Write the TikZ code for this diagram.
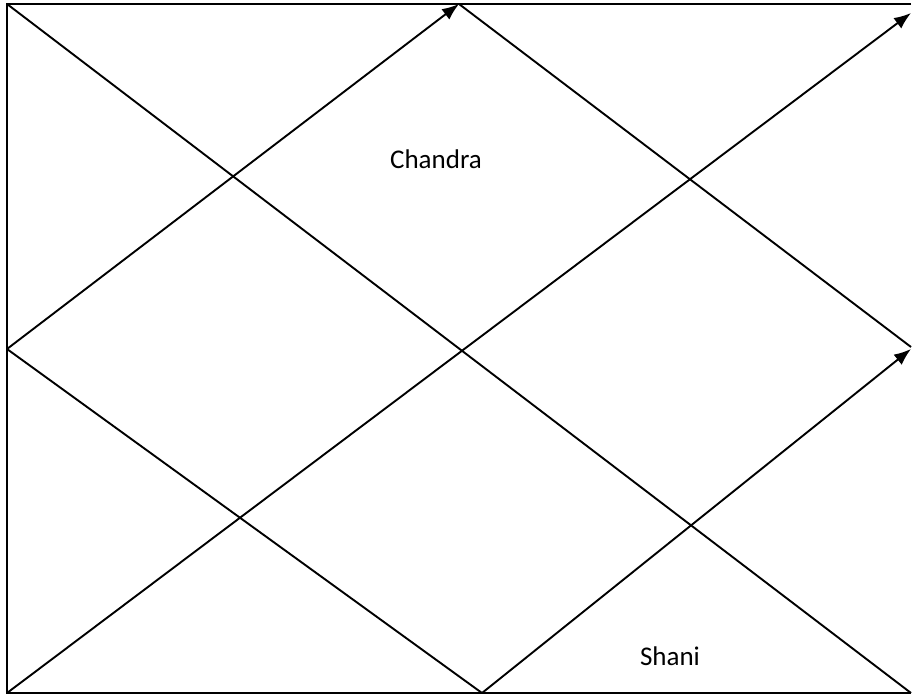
\documentclass[tikz,border=0pt]{standalone}
\usepackage{fontspec}
\setmainfont{Carlito}
\usetikzlibrary{arrows.meta}
\tikzset{
  chartline/.style={line width=1.9pt},
  chartarrow/.style={chartline, -{Latex[length=17pt,width=13pt]}},
  graha/.style={font=\fontsize{27}{31}\selectfont}
}
\begin{document}
\begin{tikzpicture}[x=1pt,y=-1pt]
        \useasboundingbox (0,0) rectangle (912,698);

        % Rohy a středy okrajů
        \coordinate (tl) at (7,4);
        \coordinate (tm) at (459,4);
        \coordinate (tr) at (911,4);
        \coordinate (lm) at (7,349);
        \coordinate (rm) at (911,347);
        \coordinate (bl) at (7,693);
        \coordinate (bm) at (482,693);
        \coordinate (br) at (911,693);
        \coordinate (trtip) at (911,13);
        \coordinate (rmtip) at (911,349);

        % Rámeček (pravý okraj není vidět)
        \draw[chartline] (tr) -- (tl) -- (bl) -- (br);

        % Úhlopříčky
        \draw[chartline] (tl) -- (br);
        \draw[chartarrow] (bl) -- (trtip);

        % Kosočtverec
        \draw[chartarrow] (lm) -- (tm);
        \draw[chartline] (tm) -- (rm);
        \draw[chartarrow] (bm) -- (rmtip);
        \draw[chartline] (lm) -- (bm);

        % Planety
        \node[graha] (chandra) at (436,159) {Chandra};
        \node[graha] (shani) at (670,656) {Shani};
    \end{tikzpicture}
\end{document}
